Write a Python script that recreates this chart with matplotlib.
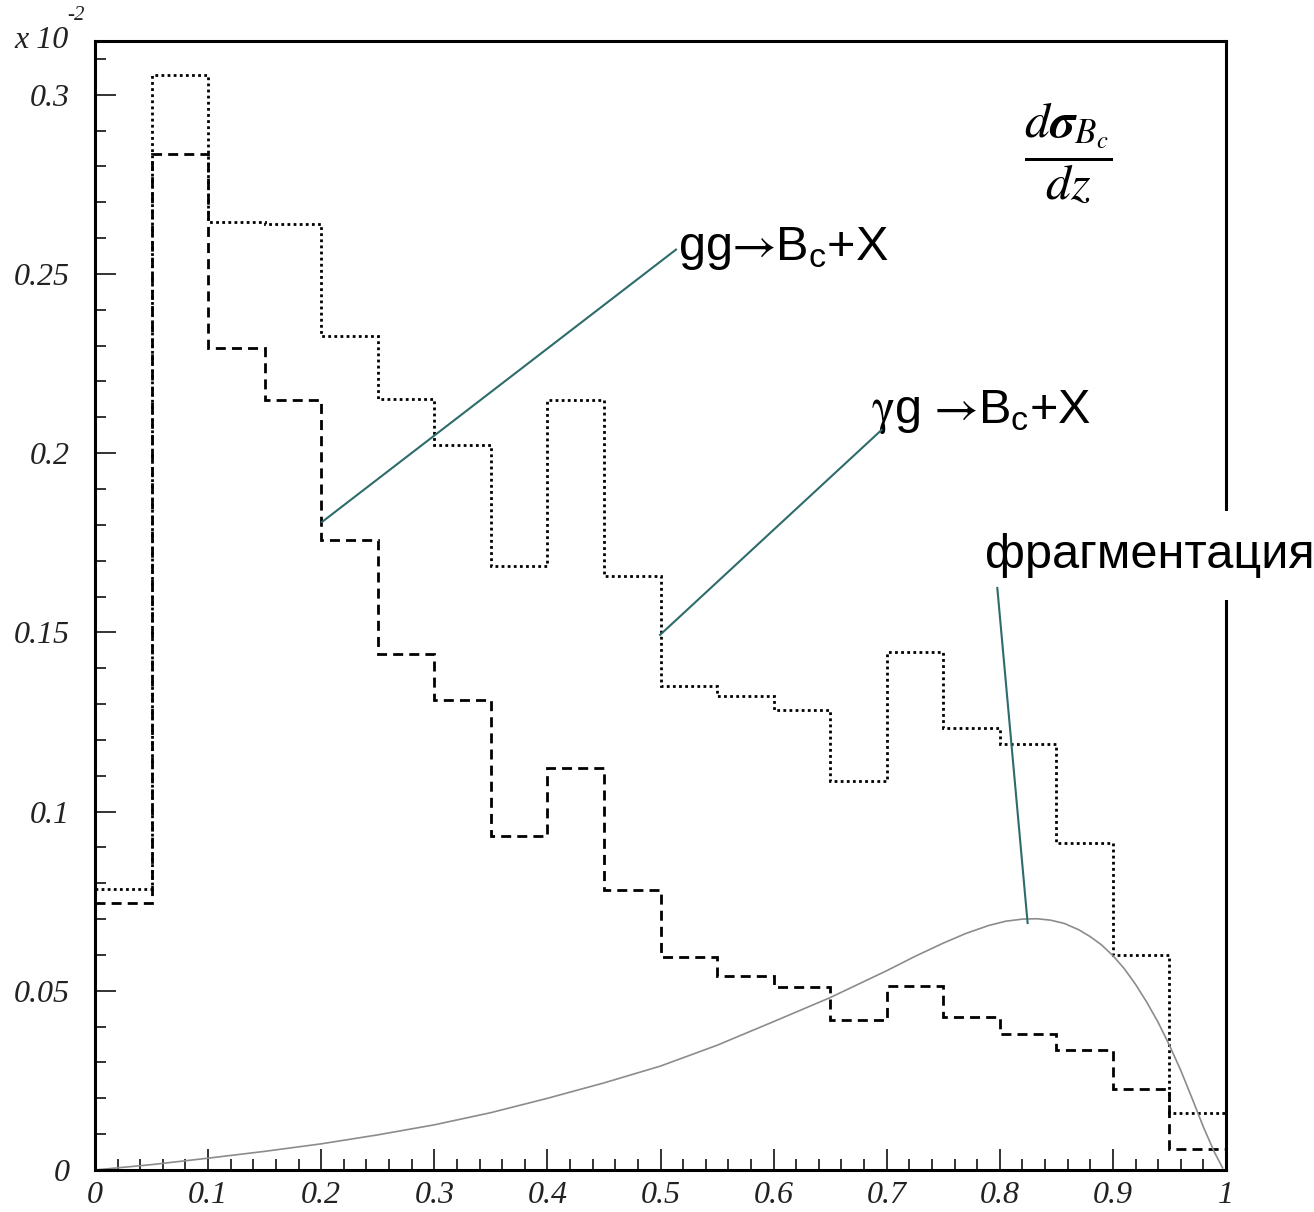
import matplotlib
matplotlib.use('Agg')
import matplotlib.pyplot as plt
import numpy as np
from matplotlib.ticker import FixedLocator, MultipleLocator

plt.rcParams['mathtext.fontset'] = 'custom'
plt.rcParams['mathtext.rm'] = 'STIXGeneral'
plt.rcParams['mathtext.sf'] = 'Liberation Sans'
plt.rcParams['mathtext.it'] = 'Liberation Sans:italic'

# bin edges of both histograms (20 bins of 0.05)
z_edges = np.linspace(0.0, 1.0, 21)

# gamma g -> Bc + X (dotted)
gamma_g = [0.0784, 0.3056, 0.2646, 0.2640, 0.2328, 0.2152, 0.2023, 0.1686, 0.2149, 0.1658,
           0.1351, 0.1323, 0.1284, 0.1086, 0.1446, 0.1234, 0.1189, 0.0913, 0.0600, 0.0159]

# g g -> Bc + X (dashed)
g_g = [0.0745, 0.2836, 0.2294, 0.2149, 0.1758, 0.1440, 0.1312, 0.0932, 0.1122, 0.0781,
       0.0594, 0.0541, 0.0511, 0.0419, 0.0514, 0.0427, 0.0380, 0.0335, 0.0226, 0.0059]

# fragmentation curve
frag_z = [0.0, 0.05, 0.1, 0.15, 0.2, 0.25, 0.3, 0.35, 0.4, 0.45, 0.5, 0.55, 0.6, 0.65, 0.7,
          0.725, 0.75, 0.77, 0.79, 0.805, 0.82, 0.833, 0.845, 0.857, 0.87, 0.88, 0.89, 0.9,
          0.91, 0.92, 0.93, 0.94, 0.95, 0.96, 0.97, 0.98, 0.99, 0.997]
frag_val = [0.0, 0.0015, 0.0033, 0.0052, 0.0073, 0.0098, 0.0126, 0.0160, 0.0200, 0.0243,
            0.0290, 0.0348, 0.0414, 0.0481, 0.0556, 0.0596, 0.0633, 0.0660, 0.0682, 0.0694,
            0.0700, 0.0701, 0.0697, 0.0688, 0.0670, 0.0651, 0.0628, 0.0598, 0.0562, 0.0518,
            0.0468, 0.0412, 0.0348, 0.0278, 0.0200, 0.0120, 0.0048, 0.0006]

x_ticks = [0.0, 0.1, 0.2, 0.3, 0.4, 0.5, 0.6, 0.7, 0.8, 0.9, 1.0]
x_labels = ['0', '0.1', '0.2', '0.3', '0.4', '0.5', '0.6', '0.7', '0.8', '0.9', '1']
y_ticks = [0.0, 0.05, 0.1, 0.15, 0.2, 0.25, 0.3]
y_labels = ['0', '0.05', '0.1', '0.15', '0.2', '0.25', '0.3']

line_col = '#2e6b6b'
label_font = ['Liberation Sans', 'DejaVu Sans']
arrow_part = '$\\hspace{-0.22}\\rightarrow\\hspace{-0.22}\\mathsf{B_c}$'

fig = plt.figure(figsize=(13.14, 12.12), dpi=100)
ax = fig.add_axes([95 / 1314, 1 - 1170 / 1212, (1226 - 95) / 1314, (1170 - 41) / 1212])

ax.stairs(gamma_g, z_edges, baseline=None, color='black', linewidth=2.0,
          linestyle=(0, (1.0, 1.2)))
ax.stairs(g_g, z_edges, baseline=None, color='black', linewidth=2.0,
          linestyle=(0, (3.6, 2.2)))
ax.plot(frag_z, frag_val, color='#8c8c8c', linewidth=1.2)

# labels with pointer lines
ax.plot([0.2007, 0.5137], [0.1808, 0.2568], color=line_col, linewidth=1.5, zorder=4)
ax.text(0.5155, 0.2540, 'gg' + arrow_part + '+X', fontsize=35, family=label_font,
        ha='left', va='baseline')

ax.plot([0.4996, 0.6955], [0.1493, 0.2065], color=line_col, linewidth=1.5, zorder=4)
ax.text(0.6862, 0.2084, '$\\mathrm{\\gamma}$g ' + arrow_part + '+X', fontsize=35,
        family=label_font, ha='left', va='baseline')

ax.plot([0.7978, 0.8246], [0.1624, 0.0689], color=line_col, linewidth=1.5, zorder=4)
ax.text(0.787, 0.1680, 'фрагментация', fontsize=35, family=label_font,
        ha='left', va='baseline', zorder=3,
        bbox=dict(boxstyle='square,pad=0.45', facecolor='white', edgecolor='none'))

ax.text(0.8602, 0.2839, r'$\dfrac{d\boldsymbol{\sigma}_{B_c}}{dz}$', fontsize=36,
        math_fontfamily='stix', ha='center', va='center')

ax.set_xlim(0, 1)
ax.set_ylim(0, 0.315)
ax.xaxis.set_major_locator(FixedLocator(x_ticks))
ax.set_xticklabels(x_labels)
ax.yaxis.set_major_locator(FixedLocator(y_ticks))
ax.set_yticklabels(y_labels)
ax.xaxis.set_minor_locator(MultipleLocator(0.02))
ax.yaxis.set_minor_locator(MultipleLocator(0.01))

ax.tick_params(which='both', direction='in', top=False, right=False, color='#333333',
               width=1.4, labelsize=23, labelcolor='#222222')
ax.tick_params(which='major', length=15)
ax.tick_params(which='minor', length=8)
ax.tick_params(axis='y', pad=18)
ax.tick_params(axis='x', pad=8)
for lab in ax.get_xticklabels() + ax.get_yticklabels():
    lab.set_family('Liberation Serif')
    lab.set_style('italic')

for sp in ax.spines.values():
    sp.set_linewidth(2.2)

fig.text(14 / 1314, 1 - 40 / 1212, 'x 10', fontsize=23, family='Liberation Serif',
         style='italic', color='#222222', ha='left', va='center')
fig.text(67 / 1314, 1 - 15 / 1212, '-2', fontsize=15, family='Liberation Serif',
         style='italic', color='#222222', ha='left', va='center')

fig.savefig('out.png', dpi=100)
